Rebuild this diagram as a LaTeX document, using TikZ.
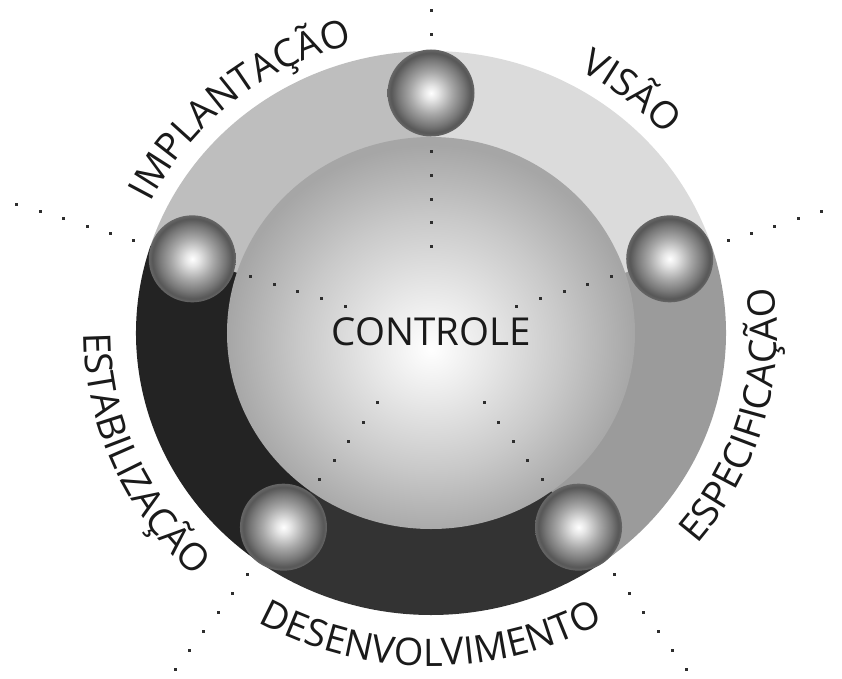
\documentclass[tikz,border=0pt]{standalone}
\usepackage{fontspec}
\setmainfont{Open Sans}
\usetikzlibrary{decorations.text}

% sector tones of the outer ring
\definecolor{secImp}{HTML}{BEBEBE}
\definecolor{secVis}{HTML}{DBDBDB}
\definecolor{secEsp}{HTML}{9B9B9B}
\definecolor{secDes}{HTML}{333333}
\definecolor{secEst}{HTML}{232323}
\definecolor{inkTxt}{HTML}{1A1A1A}
\definecolor{dotInk}{HTML}{2E2E2E}
% sphere tones
\definecolor{coreA}{HTML}{FFFFFF}
\definecolor{coreB}{HTML}{E8E8E8}
\definecolor{coreC}{HTML}{C9C9C9}
\definecolor{coreD}{HTML}{A6A6A6}
\definecolor{ballA}{HTML}{FFFFFF}
\definecolor{ballB}{HTML}{E6E6E6}
\definecolor{ballC}{HTML}{A8A8A8}
\definecolor{ballD}{HTML}{777777}
\definecolor{ballE}{HTML}{575757}
\definecolor{ballF}{HTML}{666666}

\pgfdeclareradialshading{coreshade}{\pgfpoint{0bp}{-2bp}}{%
  color(0bp)=(coreA); color(7bp)=(coreB); color(16bp)=(coreC);
  color(25bp)=(coreD); color(50bp)=(coreD)}
\pgfdeclareradialshading{ballshade}{\pgfpoint{0bp}{0bp}}{%
  color(0bp)=(ballA); color(4bp)=(ballB); color(12bp)=(ballC);
  color(19bp)=(ballD); color(23bp)=(ballE); color(25bp)=(ballF);
  color(50bp)=(ballF)}

\newcommand\lblfont{\fontsize{38pt}{42pt}\selectfont\color{inkTxt}}

\tikzset{
  ballnode/.style={circle, minimum size=87pt, inner sep=0pt, shading=ballshade},
  dotnode/.style={rectangle, minimum size=3pt, inner sep=0pt, fill=dotInk},
  arclabel/.style={decorate, decoration={text along path, text align={fit to path}, text={|\lblfont|#1}}}
}

\begin{document}
\begin{tikzpicture}[x=1pt, y=1pt]
  \useasboundingbox (-431,-345) rectangle (411,333);
  \fill[white] (-431,-345) rectangle (411,333);
  \clip (-431,-345) rectangle (411,333);

  % outer ring, one sector per phase
  \fill[secImp] (0,0) -- (90:295pt and 282pt) arc[start angle=90, end angle=162, x radius=295pt, y radius=282pt] -- cycle;
  \fill[secVis] (0,0) -- (18:295pt and 282pt) arc[start angle=18, end angle=90, x radius=295pt, y radius=282pt] -- cycle;
  \fill[secEsp] (0,0) -- (-54:295pt and 282pt) arc[start angle=-54, end angle=18, x radius=295pt, y radius=282pt] -- cycle;
  \fill[secDes] (0,0) -- (-126:295pt and 282pt) arc[start angle=-126, end angle=-54, x radius=295pt, y radius=282pt] -- cycle;
  \fill[secEst] (0,0) -- (162:295pt and 282pt) arc[start angle=162, end angle=234, x radius=295pt, y radius=282pt] -- cycle;

  % central sphere
  \shade[shading=coreshade] (0,0) ellipse [x radius=204pt, y radius=196pt];
  \node[font=\fontsize{38.5pt}{42pt}\selectfont, text=inkTxt] (ctl) at (0,1.5) {CONTROLE};

  % anchor points of the five phase spheres
  \coordinate (ctr) at (0,0);
  \coordinate (p1) at (90:251pt and 240pt);
  \coordinate (p2) at (18:251pt and 240pt);
  \coordinate (p3) at (-54:251pt and 240pt);
  \coordinate (p4) at (-126:251pt and 240pt);
  \coordinate (p5) at (162:251pt and 240pt);

  % dotted spokes, inside the sphere and beyond the ring
  \foreach \p in {p1,p2,p3,p4,p5}{
    \foreach \t in {0.36,0.459,0.558,0.657,0.756,1.245,1.343,1.441,1.539,1.637,1.735}{
      \path (ctr) -- (\p) node[dotnode, pos=\t] {};
    }
  }

  % phase spheres
  \node[ballnode] (b1) at (p1) {};
  \node[ballnode] (b2) at (p2) {};
  \node[ballnode] (b3) at (p3) {};
  \node[ballnode] (b4) at (p4) {};
  \node[ballnode] (b5) at (p5) {};

  % phase names around the ring
  \path[arclabel=IMPLANTAÇÃO] (154:312pt and 298.4pt) arc[start angle=154, end angle=104.5, x radius=312pt, y radius=298.4pt];
  \path[arclabel=VISÃO] (61.5:312pt and 298.4pt) arc[start angle=61.5, end angle=42, x radius=312pt, y radius=298.4pt];
  \path[arclabel=ESPECIFICAÇÃO] (-39.7:346pt and 331pt) arc[start angle=-39.7, end angle=5.9, x radius=346pt, y radius=331pt];
  \path[arclabel=DESENVOLVIMENTO] (-119.7:349pt and 333pt) arc[start angle=-119.7, end angle=-60.3, x radius=349pt, y radius=333pt];
  \path[arclabel=ESTABILIZAÇÃO] (180:347pt and 332pt) arc[start angle=180, end angle=225, x radius=347pt, y radius=332pt];
\end{tikzpicture}
\end{document}
